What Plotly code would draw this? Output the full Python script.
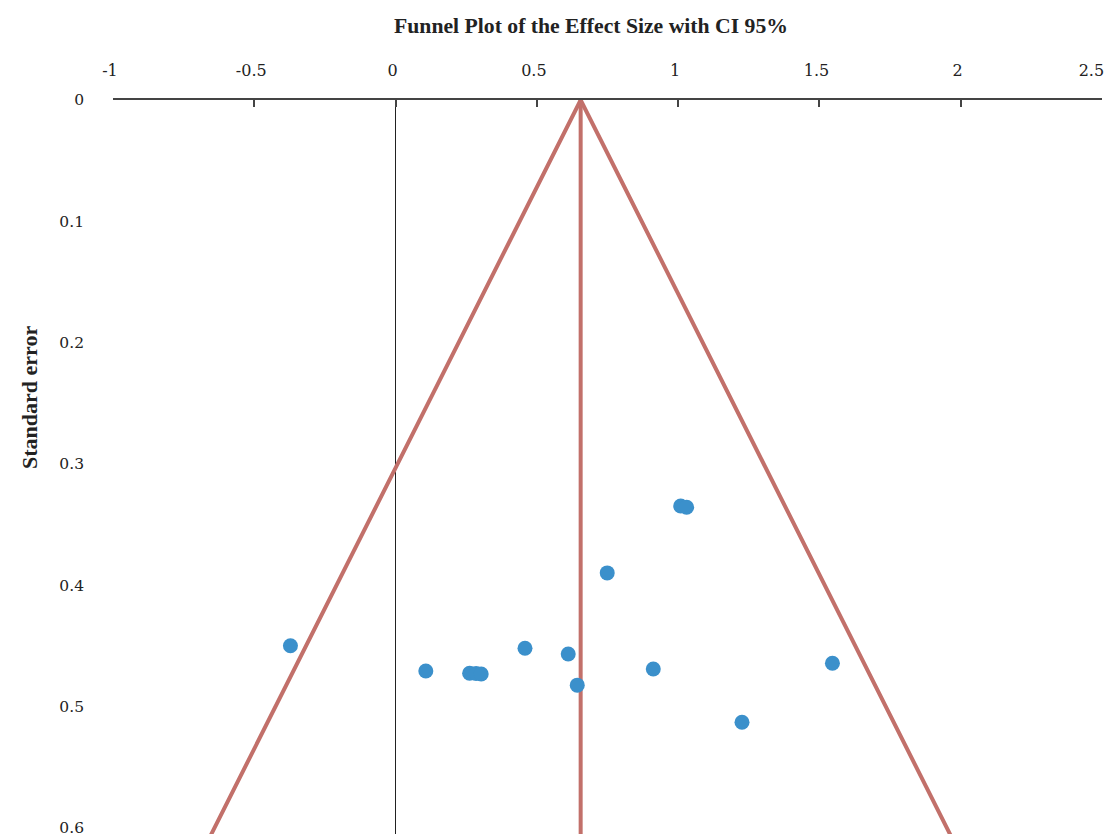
import plotly.graph_objects as go

# Study effect sizes and their standard errors
effect_size = [-0.372, 0.107, 0.262, 0.285, 0.303, 0.458, 0.611, 0.643,
               0.749, 0.912, 1.009, 1.030, 1.226, 1.546]
std_error = [0.4498, 0.4706, 0.4725, 0.4727, 0.4731, 0.4519, 0.4566, 0.4823,
             0.3898, 0.4690, 0.3346, 0.3357, 0.5129, 0.4643]

pooled_effect = 0.655
t_crit = 2.16          # 95% CI multiplier
se_max = 0.7           # extent of the funnel lines

x_ticks = [-1, -0.5, 0, 0.5, 1, 1.5, 2, 2.5]
x_tick_labels = ["-1", "-0.5", "0", "0.5", "1", "1.5", "2", "2.5"]
y_ticks = [0, 0.1, 0.2, 0.3, 0.4, 0.5, 0.6]
y_tick_labels = ["0", "0.1", "0.2", "0.3", "0.4", "0.5", "0.6"]

line_color = "#c2706a"
dot_color = "#3b90cb"
tick_font = "DejaVu Serif"
title_font = "Liberation Serif"

# page has an 8px body margin; size the figure to fill the rest of the window
W, H = 1105, 826
ML, MR, MT, MB = 105, 11, 92, 0

# keep the last label inside the visible page (pad it on the right)
x_text = list(x_tick_labels)
x_text[-1] = x_text[-1] + "\u00a0\u00a0\u00a0"

fig = go.Figure()

# Funnel (CI 95%) boundaries
fig.add_trace(go.Scatter(
    x=[pooled_effect - t_crit * se_max, pooled_effect, pooled_effect + t_crit * se_max],
    y=[se_max, 0, se_max],
    mode="lines", line=dict(color=line_color, width=4),
    hoverinfo="skip", showlegend=False))

# Pooled effect vertical line
fig.add_trace(go.Scatter(
    x=[pooled_effect, pooled_effect], y=[0, se_max],
    mode="lines", line=dict(color=line_color, width=4),
    hoverinfo="skip", showlegend=False))

# Studies
fig.add_trace(go.Scatter(
    x=effect_size, y=std_error, mode="markers",
    marker=dict(color=dot_color, size=15, line=dict(width=0)),
    showlegend=False))

plot_w = W - ML - MR
plot_h = H - MT - MB

fig.update_layout(
    width=W, height=H,
    margin=dict(l=ML, r=MR, t=MT, b=MB, autoexpand=False),
    paper_bgcolor="white", plot_bgcolor="white",
    font=dict(family=tick_font, size=16, color="#222222"),
    title=dict(text="<b>Funnel Plot of the Effect Size with CI 95%</b>",
               x=583 / W, xref="container", xanchor="center",
               y=1 - 17 / H, yref="container", yanchor="middle",
               font=dict(family=title_font, size=21.7, color="#222222")),
    xaxis=dict(side="top", range=[-1, 2.5], tickvals=x_ticks, ticktext=x_text,
               showgrid=False, showline=True, linecolor="#444444", linewidth=2,
               ticks="inside", ticklen=7, tickcolor="#444444", tickwidth=2,
               zeroline=True, zerolinecolor="#222222", zerolinewidth=1.3,
               ticklabelstandoff=16, ticklabelshift=-3, ticklabeloverflow="allow",
               automargin=False, tickfont=dict(size=16)),
    yaxis=dict(range=[0.605, 0], tickvals=y_ticks, ticktext=y_tick_labels,
               showgrid=False, showline=False, zeroline=False, ticks="",
               ticklabelstandoff=28, ticklabeloverflow="allow",
               automargin=False, tickfont=dict(size=15.5)),
    annotations=[dict(text="<b>Standard error</b>", textangle=-90,
                      x=(21 - ML) / plot_w, xref="paper",
                      y=1 - (390 - MT) / plot_h, yref="paper",
                      xanchor="center", yanchor="middle",
                      showarrow=False,
                      font=dict(family=title_font, size=22, color="#222222"))],
)

fig.write_html("out.html")
